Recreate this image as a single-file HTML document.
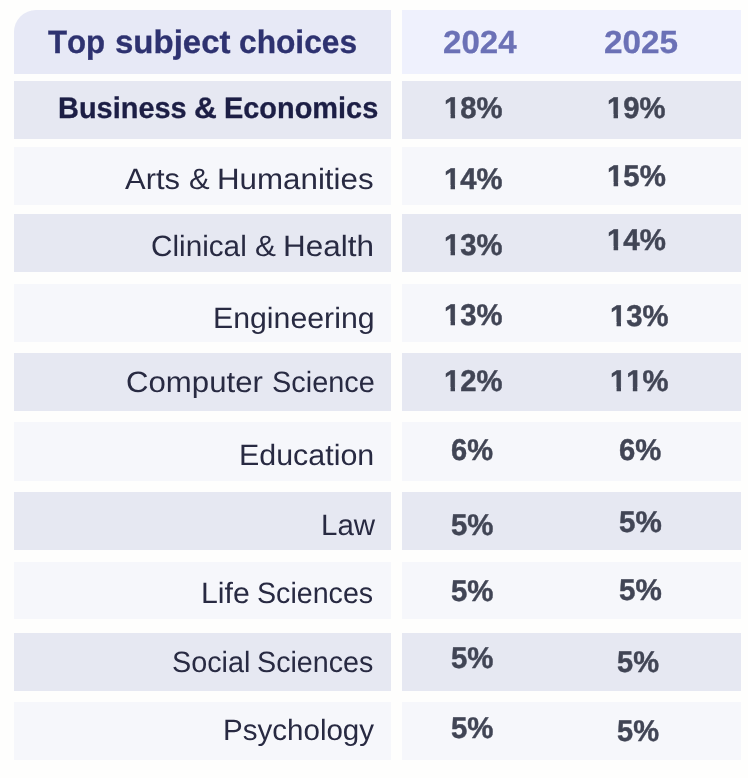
<!DOCTYPE html>
<html lang="en">
<head>
<meta charset="utf-8">
<title>Top subject choices</title>
<style>
html,body{margin:0;padding:0;}
body{width:748px;height:778px;background:#fefefd;position:relative;overflow:hidden;font-family:"Liberation Sans", Arial, sans-serif;}
.c{position:absolute;}
.t{position:absolute;left:0;white-space:nowrap;line-height:1;margin:0;text-rendering:geometricPrecision;font-kerning:none;}
.t span.w{position:absolute;top:0;transform-origin:0 0;}
.b{font-weight:700;-webkit-text-stroke:0.3px currentColor;}
.h{font-size:32.00px;}
.y{color:#6b71b6;}
.l{font-size:29.30px;color:#282a42;}
.p{font-size:30.00px;color:#414555;-webkit-text-stroke:0.45px currentColor;}
.o{display:inline-block;clip-path:polygon(-2px -4px,120% -4px,120% 20.07px,11.33px 20.07px,11.33px 130%,6.79px 130%,6.79px 20.07px,-2px 20.07px);}
</style>
</head>
<body>
<div class="c" style="left:14.0px;top:10.0px;width:377.0px;height:63.7px;background:#e7e9f6;border-top-left-radius:22px"></div>
<div class="c" style="left:401.9px;top:10.0px;width:339.0px;height:63.7px;background:#eff1fd"></div>
<div class="c" style="left:14.0px;top:81.0px;width:377.0px;height:58.2px;background:#e6e8f2"></div>
<div class="c" style="left:401.9px;top:81.0px;width:339.0px;height:58.2px;background:#e6e8f2"></div>
<div class="c" style="left:14.0px;top:146.8px;width:377.0px;height:58.4px;background:#f6f7fb"></div>
<div class="c" style="left:401.9px;top:146.8px;width:339.0px;height:58.4px;background:#f6f7fb"></div>
<div class="c" style="left:14.0px;top:214.0px;width:377.0px;height:58.3px;background:#e6e8f2"></div>
<div class="c" style="left:401.9px;top:214.0px;width:339.0px;height:58.3px;background:#e6e8f2"></div>
<div class="c" style="left:14.0px;top:283.9px;width:377.0px;height:58.1px;background:#f6f7fb"></div>
<div class="c" style="left:401.9px;top:283.9px;width:339.0px;height:58.1px;background:#f6f7fb"></div>
<div class="c" style="left:14.0px;top:352.9px;width:377.0px;height:58.1px;background:#e6e8f2"></div>
<div class="c" style="left:401.9px;top:352.9px;width:339.0px;height:58.1px;background:#e6e8f2"></div>
<div class="c" style="left:14.0px;top:422.4px;width:377.0px;height:58.3px;background:#f6f7fb"></div>
<div class="c" style="left:401.9px;top:422.4px;width:339.0px;height:58.3px;background:#f6f7fb"></div>
<div class="c" style="left:14.0px;top:492.1px;width:377.0px;height:58.4px;background:#e6e8f2"></div>
<div class="c" style="left:401.9px;top:492.1px;width:339.0px;height:58.4px;background:#e6e8f2"></div>
<div class="c" style="left:14.0px;top:561.7px;width:377.0px;height:57.4px;background:#f6f7fb"></div>
<div class="c" style="left:401.9px;top:561.7px;width:339.0px;height:57.4px;background:#f6f7fb"></div>
<div class="c" style="left:14.0px;top:633.0px;width:377.0px;height:58.0px;background:#e6e8f2"></div>
<div class="c" style="left:401.9px;top:633.0px;width:339.0px;height:58.0px;background:#e6e8f2"></div>
<div class="c" style="left:14.0px;top:702.1px;width:377.0px;height:58.4px;background:#f6f7fb"></div>
<div class="c" style="left:401.9px;top:702.1px;width:339.0px;height:58.4px;background:#f6f7fb"></div>
<div class="t b" id="h0" style="top:26px;font-size:32.50px;color:#2e3270;"><span class="w" style="left:48.20px;transform:scaleX(0.9598)">Top</span> <span class="w" style="left:114.62px;transform:scaleX(1.0155)">subject</span> <span class="w" style="left:239.11px;transform:scaleX(0.9755)">choices</span></div>
<div class="t b h y" id="h1" style="top:26px;"><span class="w" style="left:442.57px;transform:scaleX(1.0328)">2024</span></div>
<div class="t b h y" id="h2" style="top:26px;"><span class="w" style="left:604.46px;transform:scaleX(1.0405)">2025</span></div>
<div class="t b" id="a1" style="top:94px;font-size:29.70px;color:#1c1e45;"><span class="w" style="left:57.99px;transform:scaleX(0.9748)">Business</span> <span class="w" style="left:193.90px;transform:scaleX(1.0669)">&amp;</span> <span class="w" style="left:224.29px;transform:scaleX(0.9738)">Economics</span></div>
<div class="t b p" id="b1" style="top:94px;"><span class="w" style="left:443.77px;transform:scaleX(0.9750)"><span class="o">1</span>8%</span></div>
<div class="t b p" id="c1" style="top:94px;"><span class="w" style="left:607.07px;transform:scaleX(0.9734)"><span class="o">1</span>9%</span></div>
<div class="t l" id="a2" style="top:165px;"><span class="w" style="left:125.30px;transform:scaleX(1.0558)">Arts</span> <span class="w" style="left:189.39px;transform:scaleX(1.0556)">&amp;</span> <span class="w" style="left:216.79px;transform:scaleX(1.0683)">Humanities</span></div>
<div class="t b p" id="b2" style="top:165px;"><span class="w" style="left:443.77px;transform:scaleX(0.9734)"><span class="o">1</span>4%</span></div>
<div class="t b p" id="c2" style="top:162px;"><span class="w" style="left:607.06px;transform:scaleX(0.9802)"><span class="o">1</span>5%</span></div>
<div class="t l" id="a3" style="top:232px;"><span class="w" style="left:150.61px;transform:scaleX(1.0139)">Clinical</span> <span class="w" style="left:254.90px;transform:scaleX(1.0719)">&amp;</span> <span class="w" style="left:283.27px;transform:scaleX(1.0732)">Health</span></div>
<div class="t b p" id="b3" style="top:231px;"><span class="w" style="left:443.77px;transform:scaleX(0.9734)"><span class="o">1</span>3%</span></div>
<div class="t b p" id="c3" style="top:226px;"><span class="w" style="left:607.06px;transform:scaleX(0.9802)"><span class="o">1</span>4%</span></div>
<div class="t l" id="a4" style="top:304px;"><span class="w" style="left:212.94px;transform:scaleX(1.0331)">Engineering</span></div>
<div class="t b p" id="b4" style="top:301px;"><span class="w" style="left:443.77px;transform:scaleX(0.9734)"><span class="o">1</span>3%</span></div>
<div class="t b p" id="c4" style="top:302px;"><span class="w" style="left:610.27px;transform:scaleX(0.9734)"><span class="o">1</span>3%</span></div>
<div class="t l" id="a5" style="top:368px;"><span class="w" style="left:126.14px;transform:scaleX(1.0639)">Computer</span> <span class="w" style="left:271.94px;transform:scaleX(0.9864)">Science</span></div>
<div class="t b p" id="b5" style="top:367px;"><span class="w" style="left:443.77px;transform:scaleX(0.9734)"><span class="o">1</span>2%</span></div>
<div class="t b p" id="c5" style="top:367px;"><span class="w" style="left:610.27px;transform:scaleX(0.9734)"><span class="o">1</span><span class="o">1</span>%</span></div>
<div class="t l" id="a6" style="top:441px;"><span class="w" style="left:239.02px;transform:scaleX(1.0381)">Education</span></div>
<div class="t b p" id="b6" style="top:436px;"><span class="w" style="left:451.49px;transform:scaleX(0.9665)">6%</span></div>
<div class="t b p" id="c6" style="top:436px;"><span class="w" style="left:619.19px;transform:scaleX(0.9739)">6%</span></div>
<div class="t l" id="a7" style="top:511px;"><span class="w" style="left:320.60px;transform:scaleX(1.0054)">Law</span></div>
<div class="t b p" id="b7" style="top:511px;"><span class="w" style="left:451.24px;transform:scaleX(0.9796)">5%</span></div>
<div class="t b p" id="c7" style="top:508px;"><span class="w" style="left:618.94px;transform:scaleX(0.9867)">5%</span></div>
<div class="t l" id="a8" style="top:579px;"><span class="w" style="left:201.14px;transform:scaleX(1.0326)">Life</span> <span class="w" style="left:257.41px;transform:scaleX(0.9773)">Sciences</span></div>
<div class="t b p" id="b8" style="top:577px;"><span class="w" style="left:451.24px;transform:scaleX(0.9796)">5%</span></div>
<div class="t b p" id="c8" style="top:576px;"><span class="w" style="left:618.94px;transform:scaleX(0.9867)">5%</span></div>
<div class="t l" id="a9" style="top:648px;"><span class="w" style="left:171.70px;transform:scaleX(0.9820)">Social</span> <span class="w" style="left:257.16px;transform:scaleX(0.9794)">Sciences</span></div>
<div class="t b p" id="b9" style="top:644px;"><span class="w" style="left:451.24px;transform:scaleX(0.9796)">5%</span></div>
<div class="t b p" id="c9" style="top:648px;"><span class="w" style="left:616.95px;transform:scaleX(0.9678)">5%</span></div>
<div class="t l" id="a10" style="top:716px;"><span class="w" style="left:222.59px;transform:scaleX(1.0084)">Psychology</span></div>
<div class="t b p" id="b10" style="top:714px;"><span class="w" style="left:451.24px;transform:scaleX(0.9796)">5%</span></div>
<div class="t b p" id="c10" style="top:717px;"><span class="w" style="left:616.95px;transform:scaleX(0.9678)">5%</span></div>
</body>
</html>
